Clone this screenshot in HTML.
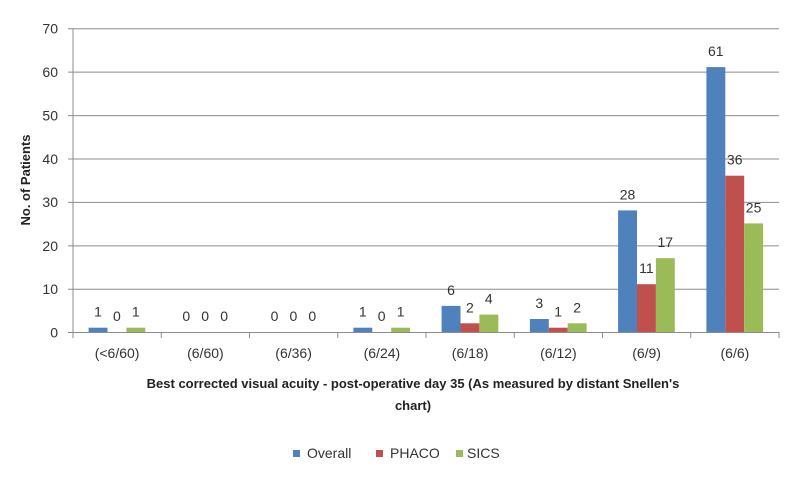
<!DOCTYPE html>
<html><head><meta charset="utf-8"><style>
body{margin:0;background:#fff}
svg{display:block;font-family:"Liberation Sans",sans-serif}
.t{font-size:14px;fill:#333}
</style></head><body>
<svg width="806" height="483" viewBox="0 0 806 483">
<g stroke="#8c8c8c" stroke-width="1">
<line x1="68" y1="28.7" x2="779" y2="28.7"/>
<line x1="68" y1="72.1" x2="779" y2="72.1"/>
<line x1="68" y1="115.6" x2="779" y2="115.6"/>
<line x1="68" y1="159" x2="779" y2="159"/>
<line x1="68" y1="202.4" x2="779" y2="202.4"/>
<line x1="68" y1="245.9" x2="779" y2="245.9"/>
<line x1="68" y1="289.3" x2="779" y2="289.3"/>
<line x1="68" y1="332.5" x2="779" y2="332.5"/>
<line x1="73" y1="28.7" x2="73" y2="338"/>
<line x1="161.25" y1="332" x2="161.25" y2="338"/>
<line x1="249.5" y1="332" x2="249.5" y2="338"/>
<line x1="337.75" y1="332" x2="337.75" y2="338"/>
<line x1="426" y1="332" x2="426" y2="338"/>
<line x1="514.25" y1="332" x2="514.25" y2="338"/>
<line x1="602.5" y1="332" x2="602.5" y2="338"/>
<line x1="690.75" y1="332" x2="690.75" y2="338"/>
<line x1="779" y1="332" x2="779" y2="338"/>
</g>
<g class="t" text-anchor="end">
<text x="58" y="33.5">70</text><text x="58" y="77">60</text><text x="58" y="120.5">50</text>
<text x="58" y="164">40</text><text x="58" y="207">30</text><text x="58" y="251">20</text>
<text x="58" y="294">10</text><text x="58" y="337.5">0</text>
</g>
<text transform="translate(30,180) rotate(-90)" text-anchor="middle" font-size="13" font-weight="bold" fill="#222">No. of Patients</text>
<g fill="#4f81bd">
<rect x="88.6" y="327.7" width="18.9" height="4.3"/>
<rect x="353.4" y="327.7" width="18.9" height="4.3"/>
<rect x="441.6" y="305.9" width="18.9" height="26.1"/>
<rect x="529.9" y="319" width="18.9" height="13"/>
<rect x="618.1" y="210.4" width="18.9" height="121.6"/>
<rect x="706.4" y="67.1" width="18.9" height="264.9"/>
</g>
<g fill="#c0504d">
<rect x="460.5" y="323.3" width="18.9" height="8.7"/>
<rect x="548.8" y="327.7" width="18.9" height="4.3"/>
<rect x="637" y="284.2" width="18.9" height="47.8"/>
<rect x="725.3" y="175.7" width="18.9" height="156.3"/>
</g>
<g fill="#9bbb59">
<rect x="126.4" y="327.7" width="18.9" height="4.3"/>
<rect x="391.2" y="327.7" width="18.9" height="4.3"/>
<rect x="479.4" y="314.6" width="18.9" height="17.4"/>
<rect x="567.7" y="323.3" width="18.9" height="8.7"/>
<rect x="655.9" y="258.2" width="18.9" height="73.8"/>
<rect x="744.2" y="223.4" width="18.9" height="108.6"/>
</g>
<g class="t" text-anchor="middle">
<text x="98" y="316.7">1</text><text x="116.9" y="321">0</text><text x="135.8" y="316.7">1</text>
<text x="186.3" y="321">0</text><text x="205.2" y="321">0</text><text x="224.1" y="321">0</text>
<text x="274.5" y="321">0</text><text x="293.4" y="321">0</text><text x="312.3" y="321">0</text>
<text x="362.8" y="316.7">1</text><text x="381.7" y="321">0</text><text x="400.6" y="316.7">1</text>
<text x="451" y="294.9">6</text><text x="469.9" y="312.3">2</text><text x="488.8" y="303.6">4</text>
<text x="539.3" y="308">3</text><text x="558.2" y="316.7">1</text><text x="577.1" y="312.3">2</text>
<text x="627.5" y="199.4">28</text><text x="646.4" y="273.2">11</text><text x="665.3" y="247.2">17</text>
<text x="715.8" y="56.1">61</text><text x="734.7" y="164.7">36</text><text x="753.6" y="212.4">25</text>
</g>
<g class="t" text-anchor="middle">
<text x="117.1" y="358">(&lt;6/60)</text><text x="205.4" y="358">(6/60)</text>
<text x="293.6" y="358">(6/36)</text><text x="381.9" y="358">(6/24)</text>
<text x="470.1" y="358">(6/18)</text><text x="558.4" y="358">(6/12)</text>
<text x="646.6" y="358">(6/9)</text><text x="734.9" y="358">(6/6)</text>
</g>
<g font-size="13" font-weight="bold" fill="#222" text-anchor="middle">
<text x="413" y="388">Best corrected visual  acuity  - post-operative day 35 (As measured by distant Snellen's</text>
<text x="413" y="410">chart)</text>
</g>
<rect x="293" y="450" width="7" height="7" fill="#4f81bd"/>
<text x="307" y="458" class="t">Overall</text>
<rect x="376" y="450" width="7" height="7" fill="#c0504d"/>
<text x="390" y="458" class="t">PHACO</text>
<rect x="456" y="450" width="7" height="7" fill="#9bbb59"/>
<text x="467" y="458" class="t">SICS</text>
</svg>
</body></html>
